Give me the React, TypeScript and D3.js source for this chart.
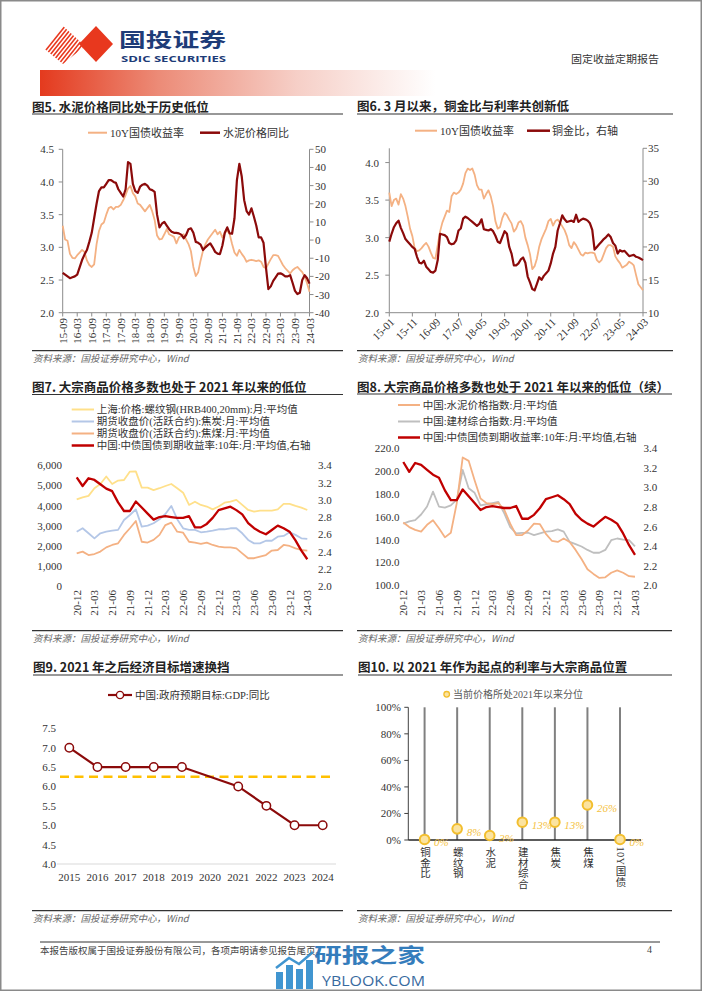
import React from "react";
import * as d3 from "d3";

const SERIF = "'Liberation Serif','Times New Roman','Noto Sans CJK SC',serif";
const SANS = "'Noto Sans CJK SC','Noto Sans',sans-serif";

const C_DARKRED = "#8B0A0A";
const C_RED = "#C00000";
const C_ORANGE = "#F4B183";
const C_YELLOW = "#FFE08A";
const C_BLUE = "#B4C7E7";
const C_GRAY = "#BFBFBF";
const C_GOLD = "#F5C242";
const TXT = "#333333";
const AXIS = "#8c8c8c";

// ---------- 图5 ----------
const fig5Ticks = ["15-09","16-03","16-09","17-03","17-09","18-03","18-09","19-03","19-09","20-03","20-09","21-03","21-09","22-03","22-09","23-03","23-09","24-03"];
const fig5Yield = [
  3.33, 3.12, 3.10, 2.90, 2.84, 2.83, 2.88, 2.92, 2.96, 2.93,
  2.80, 2.73, 2.70, 2.74, 3.05, 3.25, 3.35, 3.38, 3.50, 3.60,
  3.62, 3.58, 3.62, 3.62, 3.65, 3.72, 3.80, 3.90, 3.94, 3.83,
  3.78, 3.67, 3.65, 3.60, 3.55, 3.60, 3.65, 3.55, 3.42, 3.18,
  3.12, 3.13, 3.20, 3.28, 3.20, 3.18, 3.16, 3.06, 3.15, 3.18,
  3.20, 3.12, 3.05, 2.94, 2.70, 2.56, 2.62, 2.80, 2.95, 3.05,
  3.12, 3.17, 3.22, 3.27, 3.20, 3.24, 3.15, 3.22, 3.26, 3.20,
  3.05, 2.92, 2.87, 2.96, 2.90, 2.85, 2.78, 2.80, 2.81, 2.80,
  2.79, 2.80, 2.78, 2.70, 2.68, 2.75, 2.82, 2.88, 2.88, 2.87,
  2.80, 2.73, 2.68, 2.64, 2.60, 2.65, 2.68, 2.70, 2.66, 2.62,
  2.55, 2.45, 2.32
];
const fig5Cement = [
  -18, -19, -20, -21, -20.5, -20, -19, -15, -11, -8,
  -5.5, -1, 4, 12, 20, 27, 29, 29, 31, 33,
  33, 32, 31.5, 28, 26, 24, 28, 43, 42, 31,
  27, 26, 29.5, 30.5, 31, 30, 28, 27.5, 26.5, 14,
  7, 9, 10, 8, 6, 4.6, 4, 4, 3.7, 3,
  1, 2.8, 6, 6.5, 4, -1, -1.5, -2.5, -5.5, -4,
  -2.8, -1.8, -4, -6.5, -7.5, -7.7, -3, 4, 7, 3.7,
  3.5, 12, 33, 42, 35, 22, 16, 14, 17.5, 13,
  8, 1.5, 1.5, -1.5, -15, -27, -25.5, -22.5, -20.5, -18.5,
  -18.3, -19, -20, -20, -19.3, -23.5, -28, -29.7, -29, -22,
  -19.3, -21, -24
];

// ---------- 图6 ----------
const fig6Ticks = ["15-01","15-11","16-09","17-07","18-05","19-03","20-01","20-11","21-09","22-07","23-05","24-03"];
const fig6Yield = [
  3.60, 3.42, 3.50, 3.52, 3.44, 3.58, 3.52, 3.42, 3.28, 3.12,
  3.02, 2.86, 2.82, 2.83, 2.86, 2.90, 2.93, 2.88, 2.80, 2.73,
  2.72, 2.90, 3.08, 3.20, 3.28, 3.36, 3.34, 3.55, 3.60, 3.58,
  3.60, 3.64, 3.72, 3.86, 3.92, 3.90, 3.92, 3.84, 3.70, 3.64,
  3.64, 3.52, 3.58, 3.63, 3.55, 3.42, 3.22, 3.12, 3.14, 3.26,
  3.33, 3.30, 3.24, 3.19, 3.08, 3.12, 3.20, 3.22, 3.16, 3.00,
  2.90, 2.78, 2.58, 2.62, 2.72, 2.88, 2.98, 3.05, 3.12, 3.22,
  3.25, 3.16, 3.22, 3.24, 3.20, 3.15, 3.10, 3.02, 2.90, 2.86,
  2.94, 2.90, 2.84, 2.78, 2.76, 2.80, 2.79, 2.80, 2.80, 2.79,
  2.70, 2.67, 2.70, 2.78, 2.86, 2.90, 2.90, 2.88, 2.75, 2.70,
  2.66, 2.60, 2.62, 2.64, 2.68, 2.66, 2.63, 2.50, 2.38, 2.34,
  2.30
];
const fig6CuAu = [
  20.8, 22.0, 23.0, 23.6, 24.0, 22.9, 22.1, 21.2, 20.8, 20.4,
  20.0, 19.7, 18.5, 17.6, 17.5, 17.9, 17.0, 16.6, 16.2, 16.1,
  16.4, 18.0, 22.0, 21.9, 21.8, 21.5, 20.6, 20.4, 20.5, 21.0,
  22.5, 22.8, 24.3, 24.6, 24.4, 24.1, 23.8, 23.5, 23.2, 23.5,
  24.2, 22.7, 22.6, 22.5, 22.7, 22.4, 21.7, 20.8, 20.6, 21.5,
  22.4, 22.0, 20.0, 19.0, 17.2, 17.2, 17.5, 18.1, 18.4, 17.6,
  15.5, 14.6, 13.6, 13.4, 14.4, 15.4, 15.0, 15.6, 16.0, 16.4,
  17.5, 19.0, 20.0, 22.5, 23.6, 24.8, 24.2, 23.8, 23.9, 24.0,
  23.8, 24.9, 23.8, 24.1, 24.3, 24.2, 24.0, 23.6, 22.6, 19.6,
  20.0, 20.4, 20.8, 21.2, 21.5, 21.9, 21.5, 20.6, 20.2, 19.0,
  19.5, 19.3, 19.4, 19.0, 18.6, 18.7, 18.8, 18.5, 18.4, 18.2,
  18.0
];

// ---------- 图7 / 图8 ----------
const monthTicks = ["20-12","21-03","21-06","21-09","21-12","22-03","22-06","22-09","22-12","23-03","23-06","23-09","23-12","24-03"];
const rebar = [
  4310, 4410, 4480, 4860, 5070, 5440, 5070, 5240, 5270, 5690,
  5700, 4890, 4890, 4770, 4860, 4970, 5070, 4860, 4640, 4030,
  4190, 4030, 3950, 3810, 3950, 4140, 4190, 4280, 4030, 3780,
  3700, 3750, 3750, 3750, 3810, 4080, 4080, 3980, 3900, 3780
];
const coke = [
  2700, 2870, 2620, 2370, 2620, 2700, 2750, 2790, 3280, 3530,
  3810, 2950, 3000, 3120, 3320, 3580, 3980, 3320, 2870, 2790,
  2790, 2670, 2700, 2750, 2820, 2820, 2870, 2870, 2620, 2290,
  2120, 2120, 2250, 2250, 2450, 2490, 2670, 2540, 2370, 2340
];
const cokingCoal = [
  1620, 1710, 1540, 1590, 1710, 1920, 2040, 2120, 2540, 2870,
  3230, 2200, 2160, 2290, 2540, 3030, 3150, 2700, 2650, 2200,
  2160, 2090, 2160, 2040, 1960, 1920, 1920, 1870, 1620, 1380,
  1380, 1460, 1540, 1760, 1790, 2040, 1990, 1870, 1790, 1760
];
const cgb10y = [
  3.26, 3.16, 3.25, 3.23, 3.18, 3.13, 3.10, 2.97, 2.87, 2.87,
  2.98, 2.91, 2.84, 2.77, 2.80, 2.81, 2.80, 2.79, 2.79, 2.81,
  2.68, 2.68, 2.72, 2.79, 2.88, 2.90, 2.92, 2.88, 2.83, 2.73,
  2.67, 2.63, 2.60, 2.65, 2.70, 2.67, 2.63, 2.53, 2.41, 2.31
];
const cementIndex = [
  155, 151, 148.5, 147, 153, 157, 150, 142, 146, 172,
  212, 209, 192, 176, 172, 171, 172, 166, 154, 144,
  144, 148, 154, 153.5, 145, 139, 138, 141, 138, 131,
  123, 114, 110, 106.5, 107, 111, 113, 111, 108, 107.5
];
const buildingIndex = [
  154, 156, 157, 162, 169, 182, 169, 168, 170, 175,
  201, 185, 181, 170, 171, 172, 173, 163, 151, 145.5,
  146, 146, 144, 145.5, 147, 147.5, 149, 147, 138, 136,
  134, 131, 128.5, 128.5, 131, 139.5, 141, 140, 139.5, 134
];

// ---------- 图9 ----------
const gdpYears = ["2015","2016","2017","2018","2019","2020","2021","2022","2023","2024"];
const gdpTarget: (number | null)[] = [7.0, 6.5, 6.5, 6.5, 6.5, null, 6.0, 5.5, 5.0, 5.0];
const gdpRefLine = 6.25;

// ---------- 图10 ----------
const pctCategories = ["铜金比","螺纹钢","水泥","建材综合","焦炭","焦煤","10Y国债"];
const pctValues = [0.004, 0.084, 0.034, 0.134, 0.134, 0.264, 0.004];

const lineGen = (xs: any, ys: any) =>
  d3.line<number>().x((_, i) => xs(i)).y((d) => ys(d));

function Title({ x, y, x2, uy, text }: { x: number; y: number; x2: number; uy: number; text: string }) {
  return (
    <g>
      <text x={x} y={y} fontFamily={SANS} fontWeight={700} fontSize={12.5} fill="#222" dominantBaseline="central">{text}</text>
      <line x1={x} x2={x2} y1={uy} y2={uy} stroke="#333" strokeWidth={1.2} />
    </g>
  );
}

function Source({ x, x2, y }: { x: number; x2: number; y: number }) {
  return (
    <g>
      <line x1={x} x2={x2} y1={y} y2={y} stroke="#333" strokeWidth={1.2} />
      <text x={x + 1} y={y + 6.8} fontFamily={SANS} fontStyle="italic" fontSize={9.5} fill="#666" dominantBaseline="central">资料来源：国投证券研究中心，Wind</text>
    </g>
  );
}

function Fig5() {
  const x = d3.scaleLinear().domain([0, fig5Yield.length - 1]).range([62.7, 309.5]);
  const yL = d3.scaleLinear().domain([2, 4.5]).range([312.7, 149.3]);
  const yR = d3.scaleLinear().domain([-40, 50]).range([312.7, 149.3]);
  const lt = d3.range(2, 4.51, 0.5);
  const rt = d3.range(-40, 51, 10);
  return (
    <g>
      <Title x={32} y={106} x2={343} uy={114} text="图5. 水泥价格同比处于历史低位" />
      <line x1={88} x2={107} y1={132.7} y2={132.7} stroke={C_ORANGE} strokeWidth={2} />
      <text x={110} y={132.7} fontFamily={SERIF} fontSize={11} fill={TXT} dominantBaseline="central">10Y国债收益率</text>
      <line x1={200} x2={220} y1={132.7} y2={132.7} stroke={C_DARKRED} strokeWidth={2.5} />
      <text x={223} y={132.7} fontFamily={SERIF} fontSize={11} fill={TXT} dominantBaseline="central">水泥价格同比</text>
      <line x1={x.range()[0]} x2={x.range()[0]} y1={149.3} y2={312.7} stroke={AXIS} />
      <line x1={x.range()[1]} x2={x.range()[1]} y1={149.3} y2={312.7} stroke={AXIS} />
      <line x1={x.range()[0]} x2={x.range()[1]} y1={312.7} y2={312.7} stroke={AXIS} />
      {lt.map((v) => (
        <g key={"l" + v}>
          <line x1={x.range()[0] - 4} x2={x.range()[0]} y1={yL(v)} y2={yL(v)} stroke={AXIS} />
          <text x={54} y={yL(v)} textAnchor="end" dominantBaseline="central" fontFamily={SERIF} fontSize={11} fill={TXT}>{d3.format(".1f")(v)}</text>
        </g>
      ))}
      {rt.map((v) => (
        <g key={"r" + v}>
          <line x1={x.range()[1]} x2={x.range()[1] + 4} y1={yR(v)} y2={yR(v)} stroke={AXIS} />
          <text x={315} y={yR(v)} dominantBaseline="central" fontFamily={SERIF} fontSize={11} fill={TXT}>{v}</text>
        </g>
      ))}
      {fig5Ticks.map((t, i) => (
        <g key={t}>
          <line x1={x(i * 6)} x2={x(i * 6)} y1={312.7} y2={316.5} stroke={AXIS} />
          <text transform={`translate(${x(i * 6)},318) rotate(-90)`} textAnchor="end" dominantBaseline="central" fontFamily={SERIF} fontSize={11} fill={TXT}>{t}</text>
        </g>
      ))}
      <path d={lineGen(x, yL)(fig5Yield) || ""} fill="none" stroke={C_ORANGE} strokeWidth={1.8} strokeLinejoin="round" />
      <path d={lineGen(x, yR)(fig5Cement) || ""} fill="none" stroke={C_DARKRED} strokeWidth={2.2} strokeLinejoin="round" />
      <Source x={32} x2={343} y={350.7} />
    </g>
  );
}

function Fig6() {
  const x = d3.scaleLinear().domain([0, fig6Yield.length - 1]).range([389.3, 643]);
  const yL = d3.scaleLinear().domain([2, 4.19]).range([312.7, 148.3]);
  const yR = d3.scaleLinear().domain([10, 35]).range([312.7, 148.3]);
  const lt = d3.range(2, 4.01, 0.5);
  const rt = d3.range(10, 36, 5);
  return (
    <g>
      <Title x={357} y={105} x2={673} uy={114} text="图6. 3 月以来，铜金比与利率共创新低" />
      <line x1={415} x2={437} y1={130.7} y2={130.7} stroke={C_ORANGE} strokeWidth={2} />
      <text x={440} y={130.7} fontFamily={SERIF} fontSize={11} fill={TXT} dominantBaseline="central">10Y国债收益率</text>
      <line x1={527} x2={550} y1={130.7} y2={130.7} stroke={C_DARKRED} strokeWidth={2.5} />
      <text x={552} y={130.7} fontFamily={SERIF} fontSize={11} fill={TXT} dominantBaseline="central">铜金比，右轴</text>
      <line x1={x.range()[0]} x2={x.range()[0]} y1={148.3} y2={312.7} stroke={AXIS} />
      <line x1={x.range()[1]} x2={x.range()[1]} y1={148.3} y2={312.7} stroke={AXIS} />
      <line x1={x.range()[0]} x2={x.range()[1]} y1={312.7} y2={312.7} stroke={AXIS} />
      {lt.map((v) => (
        <g key={"l" + v}>
          <line x1={x.range()[0] - 4} x2={x.range()[0]} y1={yL(v)} y2={yL(v)} stroke={AXIS} />
          <text x={379} y={yL(v)} textAnchor="end" dominantBaseline="central" fontFamily={SERIF} fontSize={11} fill={TXT}>{d3.format(".1f")(v)}</text>
        </g>
      ))}
      {rt.map((v) => (
        <g key={"r" + v}>
          <line x1={x.range()[1]} x2={x.range()[1] + 4} y1={yR(v)} y2={yR(v)} stroke={AXIS} />
          <text x={648} y={yR(v)} dominantBaseline="central" fontFamily={SERIF} fontSize={11} fill={TXT}>{v}</text>
        </g>
      ))}
      {fig6Ticks.map((t, i) => (
        <g key={t}>
          <line x1={x(i * 10)} x2={x(i * 10)} y1={312.7} y2={316.5} stroke={AXIS} />
          <text transform={`translate(${x(i * 10) + 3},320) rotate(-45)`} textAnchor="end" dominantBaseline="central" fontFamily={SERIF} fontSize={11} fill={TXT}>{t}</text>
        </g>
      ))}
      <path d={lineGen(x, yL)(fig6Yield) || ""} fill="none" stroke={C_ORANGE} strokeWidth={1.8} strokeLinejoin="round" />
      <path d={lineGen(x, yR)(fig6CuAu) || ""} fill="none" stroke={C_DARKRED} strokeWidth={2.2} strokeLinejoin="round" />
      <Source x={357} x2={673} y={350.7} />
    </g>
  );
}

function Fig7() {
  const x = d3.scaleLinear().domain([0, rebar.length - 1]).range([76.7, 307.3]);
  const yL = d3.scaleLinear().domain([0, 6000]).range([586, 465.3]);
  const yR = d3.scaleLinear().domain([2, 3.4]).range([586, 465.3]);
  const lt = d3.range(0, 6001, 1000);
  const rt = d3.range(2, 3.41, 0.2);
  const leg = [
    { c: C_YELLOW, w: 2, t: "上海:价格:螺纹钢(HRB400,20mm):月:平均值", y: 409.5 },
    { c: C_BLUE, w: 2, t: "期货收盘价(活跃合约):焦炭:月:平均值", y: 421.5 },
    { c: C_ORANGE, w: 2, t: "期货收盘价(活跃合约):焦煤:月:平均值", y: 433.5 },
    { c: C_RED, w: 2.5, t: "中国:中债国债到期收益率:10年:月:平均值,右轴", y: 445.5 },
  ];
  return (
    <g>
      <Title x={32} y={386.7} x2={343} uy={394.5} text="图7. 大宗商品价格多数也处于 2021 年以来的低位" />
      {leg.map((l) => (
        <g key={l.t}>
          <line x1={71.7} x2={94} y1={l.y} y2={l.y} stroke={l.c} strokeWidth={l.w} />
          <text x={96.7} y={l.y} fontFamily={SERIF} fontSize={10.5} fill={TXT} dominantBaseline="central">{l.t}</text>
        </g>
      ))}
      {lt.map((v) => (
        <text key={"l" + v} x={62} y={yL(v)} textAnchor="end" dominantBaseline="central" fontFamily={SERIF} fontSize={11} fill={TXT}>{d3.format(",")(v)}</text>
      ))}
      {rt.map((v) => (
        <text key={"r" + v} x={318} y={yR(v)} dominantBaseline="central" fontFamily={SERIF} fontSize={11} fill={TXT}>{d3.format(".1f")(v)}</text>
      ))}
      {monthTicks.map((t, i) => (
        <text key={t} transform={`translate(${x(i * 3)},590) rotate(-90)`} textAnchor="end" dominantBaseline="central" fontFamily={SERIF} fontSize={11} fill={TXT}>{t}</text>
      ))}
      <path d={lineGen(x, yL)(rebar) || ""} fill="none" stroke={C_YELLOW} strokeWidth={1.8} strokeLinejoin="round" />
      <path d={lineGen(x, yL)(coke) || ""} fill="none" stroke={C_BLUE} strokeWidth={1.8} strokeLinejoin="round" />
      <path d={lineGen(x, yL)(cokingCoal) || ""} fill="none" stroke={C_ORANGE} strokeWidth={1.8} strokeLinejoin="round" />
      <path d={lineGen(x, yR)(cgb10y) || ""} fill="none" stroke={C_RED} strokeWidth={2.3} strokeLinejoin="round" />
      <Source x={32} x2={343} y={630.7} />
    </g>
  );
}

function Fig8() {
  const x = d3.scaleLinear().domain([0, cementIndex.length - 1]).range([403.3, 635]);
  const yL = d3.scaleLinear().domain([100, 220]).range([585.3, 448.3]);
  const yR = d3.scaleLinear().domain([2, 3.4]).range([585.3, 448.3]);
  const lt = d3.range(100, 221, 20);
  const rt = d3.range(2, 3.41, 0.2);
  const leg = [
    { c: C_ORANGE, w: 2, t: "中国:水泥价格指数:月:平均值", y: 405 },
    { c: C_GRAY, w: 2, t: "中国:建材综合指数:月:平均值", y: 421.5 },
    { c: C_RED, w: 2.5, t: "中国:中债国债到期收益率:10年:月:平均值,右轴", y: 437.5 },
  ];
  return (
    <g>
      <Title x={357} y={386.7} x2={672} uy={394} text="图8. 大宗商品价格多数也处于 2021 年以来的低位（续）" />
      {leg.map((l) => (
        <g key={l.t}>
          <line x1={398} x2={420} y1={l.y} y2={l.y} stroke={l.c} strokeWidth={l.w} />
          <text x={422.7} y={l.y} fontFamily={SERIF} fontSize={10.5} fill={TXT} dominantBaseline="central">{l.t}</text>
        </g>
      ))}
      {lt.map((v) => (
        <text key={"l" + v} x={399.5} y={yL(v)} textAnchor="end" dominantBaseline="central" fontFamily={SERIF} fontSize={11} fill={TXT}>{d3.format(".1f")(v)}</text>
      ))}
      {rt.map((v) => (
        <text key={"r" + v} x={643.5} y={yR(v)} dominantBaseline="central" fontFamily={SERIF} fontSize={11} fill={TXT}>{d3.format(".1f")(v)}</text>
      ))}
      {monthTicks.map((t, i) => (
        <text key={t} transform={`translate(${x(i * 3)},590) rotate(-90)`} textAnchor="end" dominantBaseline="central" fontFamily={SERIF} fontSize={11} fill={TXT}>{t}</text>
      ))}
      <path d={lineGen(x, yL)(buildingIndex) || ""} fill="none" stroke={C_GRAY} strokeWidth={1.8} strokeLinejoin="round" />
      <path d={lineGen(x, yL)(cementIndex) || ""} fill="none" stroke={C_ORANGE} strokeWidth={1.8} strokeLinejoin="round" />
      <path d={lineGen(x, yR)(cgb10y) || ""} fill="none" stroke={C_RED} strokeWidth={2.3} strokeLinejoin="round" />
      <Source x={357} x2={672} y={630.7} />
    </g>
  );
}

function Fig9() {
  const x = d3.scalePoint<string>().domain(gdpYears).range([69.3, 322.7]);
  const y = d3.scaleLinear().domain([4, 7.5]).range([864, 728.3]);
  const ticks = d3.range(4, 7.51, 0.5);
  const pts = gdpYears.map((yr, i) => ({ yr, v: gdpTarget[i] })).filter((d) => d.v !== null) as { yr: string; v: number }[];
  const line = d3.line<{ yr: string; v: number }>().x((d) => x(d.yr) as number).y((d) => y(d.v));
  return (
    <g>
      <Title x={33} y={666.7} x2={343} uy={675} text="图9. 2021 年之后经济目标增速换挡" />
      <line x1={108} x2={132} y1={695} y2={695} stroke={C_DARKRED} strokeWidth={2.2} />
      <circle cx={120} cy={695} r={3.6} fill="#fff" stroke={C_DARKRED} strokeWidth={1.4} />
      <text x={135} y={695} fontFamily={SERIF} fontSize={10.5} fill={TXT} dominantBaseline="central">中国:政府预期目标:GDP:同比</text>
      {ticks.map((v) => (
        <text key={v} x={56} y={y(v)} textAnchor="end" dominantBaseline="central" fontFamily={SERIF} fontSize={11} fill={TXT}>{d3.format(".1f")(v)}</text>
      ))}
      <line x1={57} x2={336} y1={864} y2={864} stroke="#D9D9D9" strokeWidth={1} />
      {gdpYears.map((yr) => (
        <text key={yr} x={x(yr)} y={877} textAnchor="middle" dominantBaseline="central" fontFamily={SERIF} fontSize={11} fill={TXT}>{yr}</text>
      ))}
      <line x1={60} x2={330} y1={y(gdpRefLine)} y2={y(gdpRefLine)} stroke="#FFC000" strokeWidth={2.5} strokeDasharray="9,5.5" />
      <path d={line(pts) || ""} fill="none" stroke={C_DARKRED} strokeWidth={2.2} />
      {pts.map((d) => (
        <circle key={d.yr} cx={x(d.yr)} cy={y(d.v)} r={4.2} fill="#fff" stroke={C_DARKRED} strokeWidth={1.5} />
      ))}
      <Source x={32} x2={343} y={910.7} />
    </g>
  );
}

function Fig10() {
  const x = d3.scaleBand<string>().domain(pctCategories).range([408.3, 636.3]);
  const y = d3.scaleLinear().domain([0, 1]).range([840, 707.3]);
  const ticks = d3.range(0, 1.01, 0.2);
  const fmt = d3.format(".0%");
  const cx = (c: string) => (x(c) as number) + x.bandwidth() / 2;
  return (
    <g>
      <Title x={358} y={666.7} x2={672} uy={675} text="图10. 以 2021 年作为起点的利率与大宗商品位置" />
      <circle cx={446.7} cy={694.3} r={2.8} fill="#FBE3A0" stroke="#F2BE2E" strokeWidth={1.3} />
      <text x={453} y={694.3} fontFamily={SERIF} fontSize={10} fill="#595959" dominantBaseline="central">当前价格所处2021年以来分位</text>
      {pctCategories.map((c) => (
        <line key={"v" + c} x1={cx(c)} x2={cx(c)} y1={y(0)} y2={y(1)} stroke="#808080" strokeWidth={2} />
      ))}
      <line x1={408.3} x2={408.3} y1={y(1)} y2={y(0)} stroke="#404040" strokeWidth={1} />
      {ticks.map((v) => (
        <g key={v}>
          <line x1={404.3} x2={408.3} y1={y(v)} y2={y(v)} stroke="#404040" />
          <text x={401} y={y(v)} textAnchor="end" dominantBaseline="central" fontFamily={SERIF} fontSize={11} fill={TXT}>{fmt(v)}</text>
        </g>
      ))}
      <line x1={408.3} x2={641} y1={y(0)} y2={y(0)} stroke="#262626" strokeWidth={1.6} />
      {pctCategories.map((c) => (
        <text key={"t" + c} x={cx(c)} y={846.5} fontFamily={SERIF} fontSize={10.5} fill={TXT} letterSpacing={0.3} style={{ writingMode: "vertical-rl" }}>{c}</text>
      ))}
      {pctCategories.map((c, i) => (
        <g key={"p" + c}>
          <circle cx={cx(c)} cy={y(pctValues[i])} r={4.8} fill="#FBE3A0" stroke="#F2BE2E" strokeWidth={2} />
          <text x={cx(c) + 9.5} y={y(pctValues[i]) + 3} dominantBaseline="central" fontFamily={SERIF} fontStyle="italic" fontSize={11} fill={C_GOLD}>{fmt(pctValues[i])}</text>
        </g>
      ))}
      <Source x={357} x2={672} y={910.7} />
    </g>
  );
}

function Header() {
  const stripes = d3.range(0, 14);
  return (
    <g>
      <defs>
        <clipPath id="logoClip">
          <polygon points="41,46 63,26 85,46 63,64" />
        </clipPath>
        <linearGradient id="bar" x1="0" x2="1" y1="0" y2="0">
          <stop offset="0" stopColor="#E43A1E" />
          <stop offset="0.3" stopColor="#EC8B77" />
          <stop offset="0.65" stopColor="#F6CFC7" />
          <stop offset="1" stopColor="#FFFFFF" />
        </linearGradient>
      </defs>
      <g clipPath="url(#logoClip)">
        {stripes.map((k) => (
          <line key={k} x1={30 + k * 4} y1={70} x2={70 + k * 4} y2={20} stroke="#E8381E" strokeWidth={1.6} />
        ))}
      </g>
      <polygon points="79,44 96,26 113,44 96,62" fill="#E8381E" />
      <text x={119} y={38} fontFamily={SANS} fontWeight={700} fontSize={19} fill="#1E3C78" dominantBaseline="central" textLength={107} lengthAdjust="spacingAndGlyphs">国投证券</text>
      <text x={121} y={58.7} fontFamily="'Open Sans','Noto Sans',sans-serif" fontWeight={700} fontSize={9.5} fill="#1E3C78" dominantBaseline="central" textLength={105} lengthAdjust="spacingAndGlyphs">SDIC SECURITIES</text>
      <text x={571} y={58} fontFamily={SANS} fontSize={10.5} fill="#333" dominantBaseline="central" textLength={88} lengthAdjust="spacingAndGlyphs">固定收益定期报告</text>
      <rect x={40} y={70} width={395} height={26} fill="url(#bar)" />
    </g>
  );
}

function Footer() {
  return (
    <g>
      <line x1={40} x2={660} y1={942} y2={942} stroke="#333" strokeWidth={1} />
      <text x={40} y={949.5} fontFamily={SANS} fontSize={9.5} fill="#444" dominantBaseline="central">本报告版权属于国投证券股份有限公司，各项声明请参见报告尾页。</text>
      <text x={647} y={949.5} fontFamily={SERIF} fontSize={10} fill="#444" dominantBaseline="central">4</text>
      <g opacity={0.9}>
        <rect x={276} y={972} width={7} height={17} fill="#2C8ACB" />
        <rect x={286} y={965} width={7} height={24} fill="#2C8ACB" />
        <rect x={296} y={969} width={7} height={20} fill="#2C8ACB" />
        <rect x={306} y={960} width={7} height={29} fill="#2C8ACB" />
        <polyline points="276,968 289,958 299,964 313,952" fill="none" stroke="#2C8ACB" strokeWidth={2.5} />
        <text x={314} y={954} fontFamily={SANS} fontWeight={700} fontSize={20} fill="#1F6FB5" dominantBaseline="central" textLength={111} lengthAdjust="spacingAndGlyphs">研报之家</text>
        <text x={322} y={980.5} fontFamily="'Open Sans','Noto Sans',sans-serif" fontSize={14} fill="#1F5A96" dominantBaseline="central" textLength={103} lengthAdjust="spacingAndGlyphs">YBLOOK.COM</text>
      </g>
    </g>
  );
}

export default function App() {
  return (
    <div style={{ position: "absolute", left: 0, top: 0, width: 702, height: 991, background: "#fff" }}>
      <svg width={702} height={991} style={{ display: "block" }}>
        <rect x={0} y={0} width={702} height={991} fill="#fff" />
        <Header />
        <Fig5 />
        <Fig6 />
        <Fig7 />
        <Fig8 />
        <Fig9 />
        <Fig10 />
        <Footer />
        <rect x={0.75} y={0.75} width={700.5} height={989.5} fill="none" stroke="#8a8a8a" strokeWidth={1.5} />
      </svg>
    </div>
  );
}
